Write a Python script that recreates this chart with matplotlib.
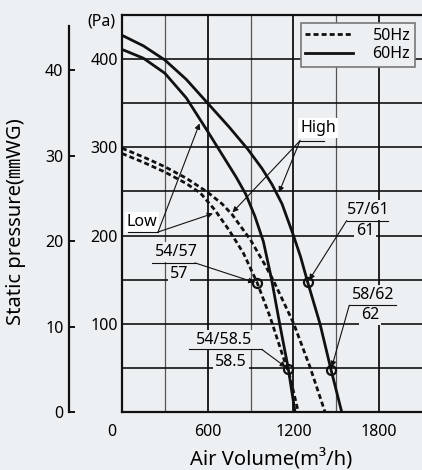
import matplotlib
matplotlib.use("Agg")
import matplotlib.pyplot as plt
import matplotlib.transforms as mtransforms
from matplotlib.lines import Line2D

plt.rcParams['font.family'] = ['Noto Sans', 'Noto Sans CJK JP', 'DejaVu Sans']

BG = '#edf0f2'
INK = '#111111'
DOTS = (0, (1.8, 1.1))

# --- fan curves: air volume (m3/h) vs static pressure (Pa) ---
q_60_high = [0, 150, 300, 450, 600, 750, 880, 980, 1050, 1120, 1196, 1250, 1300, 1386, 1463, 1538]
p_60_high = [427, 415, 399, 377, 350, 323, 298, 276, 258, 236, 202, 176, 147, 100, 48, 0]

q_60_low = [0, 150, 300, 450, 600, 700, 800, 866, 930, 990, 1045, 1106, 1162, 1211]
p_60_low = [411, 401, 384, 356, 318, 292, 266, 247, 222, 193, 152, 98, 51, 0]

q_50_high = [0, 150, 300, 450, 600, 700, 770, 900, 1000, 1060, 1130, 1200, 1316, 1421]
p_50_high = [299, 289, 278, 265, 249, 236, 224, 195, 167, 149, 125, 101, 51, 0]

q_50_low = [0, 150, 300, 450, 550, 650, 750, 850, 945, 1036, 1129, 1176, 1234]
p_50_low = [293, 283, 272, 259, 248, 229, 206, 180, 147, 108, 62, 40, 0]

# noise measuring points (dB labels)
marker_q = [945, 1162, 1300, 1463]
marker_p = [146, 49, 147, 48]

x_ticks = [0, 600, 1200, 1800]
pa_ticks = [100, 200, 300, 400]
mm_ticks = [0, 10, 20, 30, 40]

W, H = 422, 470
fig = plt.figure(figsize=(W / 100, H / 100), dpi=100, facecolor=BG)
ax = fig.add_axes([122 / W, 58 / H, 300 / W, 397 / H], facecolor=BG)
ax.set_xlim(0, 2100)
ax.set_ylim(0, 450)

# grid
for q in range(300, 2100, 300):
    major = q % 600 == 0
    ax.axvline(q, color=INK if major else '#555555', lw=1.3 if major else 0.9, zorder=1)
for p in range(50, 450, 50):
    ax.axhline(p, color=INK, lw=1.2, zorder=1)

for side in ['left', 'bottom', 'top']:
    ax.spines[side].set_linewidth(1.6)
    ax.spines[side].set_color(INK)
ax.spines['right'].set_visible(False)

ax.set_xticks(x_ticks)
ax.set_yticks(pa_ticks)
ax.tick_params(axis='x', length=0, pad=9, labelsize=11.5)
ax.tick_params(axis='y', length=0, pad=3, labelsize=11.5)
lab0 = ax.get_xticklabels()[0]
lab0.set_transform(lab0.get_transform() + mtransforms.ScaledTranslation(-0.1, 0, fig.dpi_scale_trans))

# curves
ax.plot(q_50_high, p_50_high, color=INK, lw=2, ls=DOTS, zorder=4)
ax.plot(q_50_low, p_50_low, color=INK, lw=2, ls=DOTS, zorder=4)
ax.plot(q_60_high, p_60_high, color=INK, lw=2, zorder=4)
ax.plot(q_60_low, p_60_low, color=INK, lw=2, zorder=4)
ax.plot(marker_q, marker_p, 'o', mfc='none', mec=INK, ms=6.5, mew=1.6, zorder=5)

arrow = dict(arrowstyle='-|>', color=INK, lw=0.8, mutation_scale=8, shrinkA=0, shrinkB=2)


def noise_label(top, bottom, xc, y_top, xb, y_bot, ul, ul_y, kink, target):
    box = dict(fc=BG, ec='none', pad=1.5)
    ax.text(xc, y_top, top, ha='center', va='center', fontsize=11.5, bbox=box, zorder=3)
    ax.text(xb, y_bot, bottom, ha='center', va='center', fontsize=11.5, bbox=box, zorder=3)
    ax.plot(ul, [ul_y, ul_y], color=INK, lw=0.8, zorder=6)
    ax.annotate('', xy=target, xytext=(kink, ul_y), arrowprops=arrow, zorder=6)


noise_label('54/57', '57', 378, 181, 399, 156, [208, 511], 169, 511, (marker_q[0], marker_p[0]))
noise_label('54/58.5', '58.5', 714, 82, 763, 57, [469, 978], 71, 978, (marker_q[1], marker_p[1]))
noise_label('57/61', '61', 1722, 229, 1701, 205, [1573, 1862], 217, 1573, (marker_q[2], marker_p[2]))
noise_label('58/62', '62', 1757, 133, 1736, 110, [1591, 1918], 121, 1591, (marker_q[3], marker_p[3]))

# High / Low callouts
white = dict(fc='white', ec='none', pad=1.5)
ax.text(1372, 322, 'High', ha='center', va='center', fontsize=11.5, bbox=white, zorder=3)
ax.plot([1239, 1414], [307.5, 307.5], color=INK, lw=0.8, zorder=6)
ax.annotate('', xy=(1092, 246), xytext=(1246, 307.5), arrowprops=arrow, zorder=6)
ax.annotate('', xy=(760, 224), xytext=(1246, 307.5), arrowprops=arrow, zorder=6)

ax.text(140, 215, 'Low', ha='center', va='center', fontsize=11.5, bbox=white, zorder=3)
ax.plot([42, 252], [204, 204], color=INK, lw=0.8, zorder=6)
ax.annotate('', xy=(550, 330), xytext=(252, 204), arrowprops=arrow, zorder=6)
ax.annotate('', xy=(655, 226), xytext=(252, 204), arrowprops=arrow, zorder=6)

leg = ax.legend([Line2D([], [], color=INK, lw=2, ls=DOTS), Line2D([], [], color=INK, lw=2)],
                ['50Hz', '60Hz'], loc='upper right', bbox_to_anchor=(415 / W, 1 - 23 / H),
                bbox_transform=fig.transFigure, fancybox=False, edgecolor='#777777',
                facecolor=BG, framealpha=1, fontsize=11.5, handlelength=3.0,
                handletextpad=1.2, borderpad=0.3, labelspacing=0.15, borderaxespad=0)
leg.get_frame().set_linewidth(1.2)
leg.set_zorder(8)

# mmWG axis
ax2 = fig.add_axes([69 / W, 58 / H, 0.001, 397 / H])
ax2.patch.set_visible(False)
for side in ['right', 'bottom', 'top']:
    ax2.spines[side].set_visible(False)
ax2.spines['left'].set_linewidth(1.6)
ax2.spines['left'].set_color(INK)
ax2.set_ylim(0, 46.5)
ax2.spines['left'].set_bounds(0, 45.2)
ax2.set_xticks([])
ax2.set_yticks(mm_ticks)
ax2.tick_params(axis='y', direction='in', length=4, width=1.3, pad=4, labelsize=11.5)

fig.text(116 / W, 1 - 22 / H, '(Pa)', ha='right', va='center', fontsize=11.5)
fig.text(16 / W, 1 - 222 / H, 'Static pressure(㎜WG)', rotation=90, ha='center', va='center', fontsize=14.5)
fig.text(271 / W, 1 - 460 / H, 'Air Volume(m³/h)', ha='center', va='center', fontsize=14.5)

fig.savefig('out.png', dpi=100, facecolor=BG)
